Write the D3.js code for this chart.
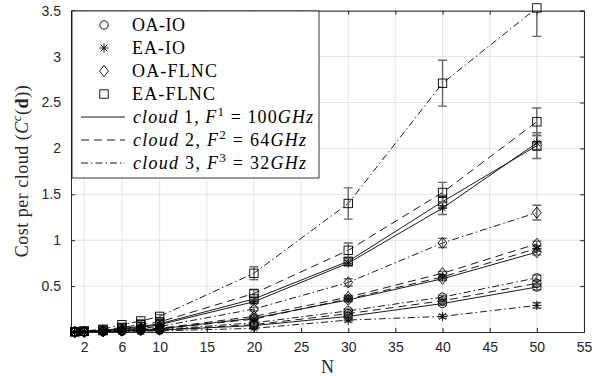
<!DOCTYPE html>
<html>
<head>
<meta charset="utf-8">
<script src="https://cdn.jsdelivr.net/npm/d3@7"></script>
<style>
  html, body { margin: 0; padding: 0; background: #fff; }
  svg { display: block; }
</style>
</head>
<body>
<div id="chart"></div>
<script>
// N values where the costs were measured
const N = [1, 2, 4, 6, 8, 10, 20, 30, 40, 50];
const xTicks = [2, 6, 10, 15, 20, 25, 30, 35, 40, 45, 50, 55];
const yTicks = [0.5, 1, 1.5, 2, 2.5, 3, 3.5];

// cost per cloud
const oaIo1 = [0.001, 0.002, 0.005, 0.010, 0.015, 0.020, 0.07, 0.17, 0.31, 0.49];
const oaIo2 = [0.001, 0.002, 0.006, 0.011, 0.017, 0.023, 0.08, 0.20, 0.34, 0.53];
const oaIo3 = [0.001, 0.003, 0.007, 0.013, 0.020, 0.027, 0.10, 0.23, 0.38, 0.59];
const eaIo1 = [0.002, 0.005, 0.013, 0.030, 0.050, 0.080, 0.33, 0.75, 1.35, 2.06];
const eaIo2 = [0.001, 0.003, 0.008, 0.015, 0.025, 0.035, 0.14, 0.36, 0.60, 0.91];
const eaIo3 = [0.001, 0.001, 0.003, 0.006, 0.009, 0.012, 0.04, 0.13, 0.17, 0.29];
const oaFlnc1 = [0.001, 0.003, 0.008, 0.016, 0.025, 0.035, 0.15, 0.35, 0.58, 0.87];
const oaFlnc2 = [0.001, 0.003, 0.009, 0.018, 0.028, 0.040, 0.17, 0.38, 0.64, 0.96];
const oaFlnc3 = [0.002, 0.004, 0.012, 0.025, 0.040, 0.060, 0.25, 0.54, 0.97, 1.30];
const eaFlnc1 = [0.003, 0.006, 0.016, 0.040, 0.060, 0.090, 0.36, 0.77, 1.42, 2.03];
const eaFlnc2 = [0.003, 0.008, 0.020, 0.050, 0.080, 0.110, 0.42, 0.89, 1.52, 2.29];
const eaFlnc3 = [0.005, 0.010, 0.030, 0.080, 0.120, 0.170, 0.64, 1.40, 2.71, 3.53];

// half-width of the error bars
const errSmall = [0, 0, 0.002, 0.003, 0.004, 0.005, 0.01, 0.02, 0.02, 0.03];
const errEaIo1 = [0, 0, 0.003, 0.005, 0.006, 0.008, 0.02, 0.03, 0.07, 0.08];
const errOaFlnc3 = [0, 0, 0.003, 0.005, 0.006, 0.008, 0.02, 0.04, 0.05, 0.08];
const errEaFlnc1 = [0, 0, 0.003, 0.005, 0.006, 0.008, 0.02, 0.03, 0.07, 0.14];
const errEaFlnc2 = [0, 0, 0.004, 0.006, 0.008, 0.010, 0.04, 0.08, 0.11, 0.15];
const errEaFlnc3 = [0, 0, 0.005, 0.010, 0.015, 0.020, 0.07, 0.17, 0.25, 0.31];

const algorithms = ["OA-IO", "EA-IO", "OA-FLNC", "EA-FLNC"];
const markers = ["circle", "star", "diamond", "square"];
const clouds = [
  { label: "1", sup: "1", freq: "100" },
  { label: "2", sup: "2", freq: "64" },
  { label: "3", sup: "3", freq: "32" },
];
const dashes = [null, "8,5", "7,3,1.5,3"];

const series = [
  { alg: 0, cloud: 0, values: oaIo1, err: errSmall },
  { alg: 0, cloud: 1, values: oaIo2, err: errSmall },
  { alg: 0, cloud: 2, values: oaIo3, err: errSmall },
  { alg: 1, cloud: 0, values: eaIo1, err: errEaIo1 },
  { alg: 1, cloud: 1, values: eaIo2, err: errSmall },
  { alg: 1, cloud: 2, values: eaIo3, err: errSmall },
  { alg: 2, cloud: 0, values: oaFlnc1, err: errSmall },
  { alg: 2, cloud: 1, values: oaFlnc2, err: errSmall },
  { alg: 2, cloud: 2, values: oaFlnc3, err: errOaFlnc3 },
  { alg: 3, cloud: 0, values: eaFlnc1, err: errEaFlnc1 },
  { alg: 3, cloud: 1, values: eaFlnc2, err: errEaFlnc2 },
  { alg: 3, cloud: 2, values: eaFlnc3, err: errEaFlnc3 },
];

const W = 596, H = 376;
const margin = { top: 10.7, right: 12, bottom: 44, left: 71 };
const axisColor = "#262626";
const serif = "'Liberation Serif', 'Times New Roman', serif";
const sans = "'Liberation Sans', Arial, sans-serif";

const svg = d3.select("#chart").append("svg")
  .attr("width", W).attr("height", H)
  .attr("viewBox", `0 0 ${W} ${H}`);

const x = d3.scaleLinear().domain([0.6, 55]).range([margin.left, W - margin.right]);
const y = d3.scaleLinear().domain([0, 3.5]).range([H - margin.bottom, margin.top]);

const [x0, x1] = x.range();
const [y0, y1] = y.range();

svg.append("defs").append("clipPath").attr("id", "plot-clip")
  .append("rect").attr("x", x0).attr("y", y1).attr("width", x1 - x0).attr("height", y0 - y1);

// grid
const grid = svg.append("g").attr("stroke", "#e3e3e3").attr("stroke-width", 1);
grid.selectAll(".gx").data(xTicks).join("line")
  .attr("x1", d => x(d)).attr("x2", d => x(d)).attr("y1", y0).attr("y2", y1);
grid.selectAll(".gy").data(yTicks).join("line")
  .attr("y1", d => y(d)).attr("y2", d => y(d)).attr("x1", x0).attr("x2", x1);

// axes, ticks pointing inward like matlab
const tickLen = 4;
svg.append("g")
  .attr("transform", `translate(0,${y0})`)
  .call(d3.axisBottom(x).tickValues(xTicks).tickSize(-tickLen).tickPadding(10))
  .call(g => g.select(".domain").attr("stroke", axisColor))
  .call(g => g.selectAll(".tick line").attr("stroke", axisColor))
  .call(g => g.selectAll(".tick text").attr("fill", axisColor).attr("font-family", sans).attr("font-size", 14));

svg.append("g")
  .attr("transform", `translate(0,${y1})`)
  .call(d3.axisTop(x).tickValues(xTicks).tickSize(-tickLen).tickFormat(""))
  .call(g => g.select(".domain").attr("stroke", axisColor))
  .call(g => g.selectAll(".tick line").attr("stroke", axisColor));

svg.append("g")
  .attr("transform", `translate(${x0},0)`)
  .call(d3.axisLeft(y).tickValues(yTicks).tickSize(-tickLen).tickPadding(10).tickFormat(d => d))
  .call(g => g.select(".domain").attr("stroke", axisColor))
  .call(g => g.selectAll(".tick line").attr("stroke", axisColor))
  .call(g => g.selectAll(".tick text").attr("fill", axisColor).attr("font-family", sans).attr("font-size", 14));

svg.append("g")
  .attr("transform", `translate(${x1},0)`)
  .call(d3.axisRight(y).tickValues(yTicks).tickSize(-tickLen).tickFormat(""))
  .call(g => g.select(".domain").attr("stroke", axisColor))
  .call(g => g.selectAll(".tick line").attr("stroke", axisColor));

// lines
const line = d3.line().x((d, i) => x(N[i])).y(d => y(d));
const plot = svg.append("g").attr("clip-path", "url(#plot-clip)");
plot.selectAll(".series").data(series).join("path")
  .attr("fill", "none").attr("stroke", "#000").attr("stroke-width", 0.9)
  .attr("stroke-dasharray", d => dashes[d.cloud])
  .attr("d", d => line(d.values));

// error bars
const capW = 4.5;
series.forEach(s => {
  const g = plot.append("g").attr("stroke", "#666").attr("stroke-width", 1.4);
  s.values.forEach((v, i) => {
    const cx = x(N[i]);
    const lo = y(v - s.err[i]), hi = y(v + s.err[i]);
    g.append("line").attr("x1", cx).attr("x2", cx).attr("y1", lo).attr("y2", hi);
    g.append("line").attr("x1", cx - capW).attr("x2", cx + capW).attr("y1", lo).attr("y2", lo);
    g.append("line").attr("x1", cx - capW).attr("x2", cx + capW).attr("y1", hi).attr("y2", hi);
  });
});

function drawMarker(g, type, cx, cy) {
  const m = g.append("g").attr("transform", `translate(${cx},${cy})`)
    .attr("fill", "none").attr("stroke", "#000").attr("stroke-width", 0.9);
  if (type === "circle") {
    m.append("circle").attr("r", 4.2);
  } else if (type === "square") {
    m.append("rect").attr("x", -4.2).attr("y", -4.2).attr("width", 8.4).attr("height", 8.4);
  } else if (type === "diamond") {
    m.append("path").attr("d", "M0,-5.6L4.4,0L0,5.6L-4.4,0Z");
  } else {
    const r = 4.6, q = r * 0.72;
    m.append("path").attr("d", `M0,${-r}V${r}M${-r},0H${r}M${-q},${-q}L${q},${q}M${-q},${q}L${q},${-q}`);
  }
}

// markers
const markG = svg.append("g");
series.forEach(s => {
  s.values.forEach((v, i) => drawMarker(markG, markers[s.alg], x(N[i]), y(v)));
});

// axis titles
svg.append("text")
  .attr("x", (x0 + x1) / 2).attr("y", 373)
  .attr("text-anchor", "middle")
  .attr("font-family", serif).attr("font-size", 18).attr("fill", axisColor)
  .text("N");

const yl = svg.append("text")
  .attr("transform", `translate(28,${(y0 + y1) / 2}) rotate(-90)`)
  .attr("text-anchor", "middle")
  .attr("font-family", serif).attr("font-size", 18).attr("fill", axisColor)
  .attr("textLength", 172).attr("lengthAdjust", "spacing");
yl.append("tspan").text("Cost per cloud (");
yl.append("tspan").attr("font-style", "italic").text("C");
yl.append("tspan").attr("font-style", "italic").attr("font-size", 13).attr("dy", -7).text("c");
yl.append("tspan").attr("dy", 7).text("(");
yl.append("tspan").attr("font-weight", "bold").text("d");
yl.append("tspan").text("))");

// legend
const leg = svg.append("g");
leg.append("rect")
  .attr("x", 72).attr("y", 11).attr("width", 247).attr("height", 167)
  .attr("fill", "#fff").attr("stroke", "#000").attr("stroke-width", 0.8);

const rowY = i => 25 + i * 23;
const algWidths = [53, 53, 85, 83];
algorithms.forEach((a, i) => {
  drawMarker(leg, markers[i], 104, rowY(i));
  leg.append("text")
    .attr("x", 132).attr("y", rowY(i)).attr("dy", "0.35em")
    .attr("font-family", serif).attr("font-size", 18).attr("fill", "#000")
    .attr("textLength", algWidths[i]).attr("lengthAdjust", "spacing")
    .text(a);
});

const cloudWidths = [180, 173, 173];
clouds.forEach((c, j) => {
  const ry = rowY(4 + j);
  leg.append("line")
    .attr("x1", 81).attr("x2", 125).attr("y1", ry).attr("y2", ry)
    .attr("stroke", "#000").attr("stroke-width", 0.9)
    .attr("stroke-dasharray", dashes[j]);
  const t = leg.append("text")
    .attr("x", 133).attr("y", ry).attr("dy", "0.35em")
    .attr("font-family", serif).attr("font-size", 18).attr("fill", "#000")
    .attr("textLength", cloudWidths[j]).attr("lengthAdjust", "spacing");
  t.append("tspan").attr("font-style", "italic").text("cloud");
  t.append("tspan").text(` ${c.label}, `);
  t.append("tspan").attr("font-style", "italic").text("F");
  t.append("tspan").attr("font-size", 13).attr("dy", -7).text(c.sup);
  t.append("tspan").attr("dy", 7).text(` = ${c.freq}`);
  t.append("tspan").attr("font-style", "italic").text("GHz");
});
</script>
</body>
</html>
